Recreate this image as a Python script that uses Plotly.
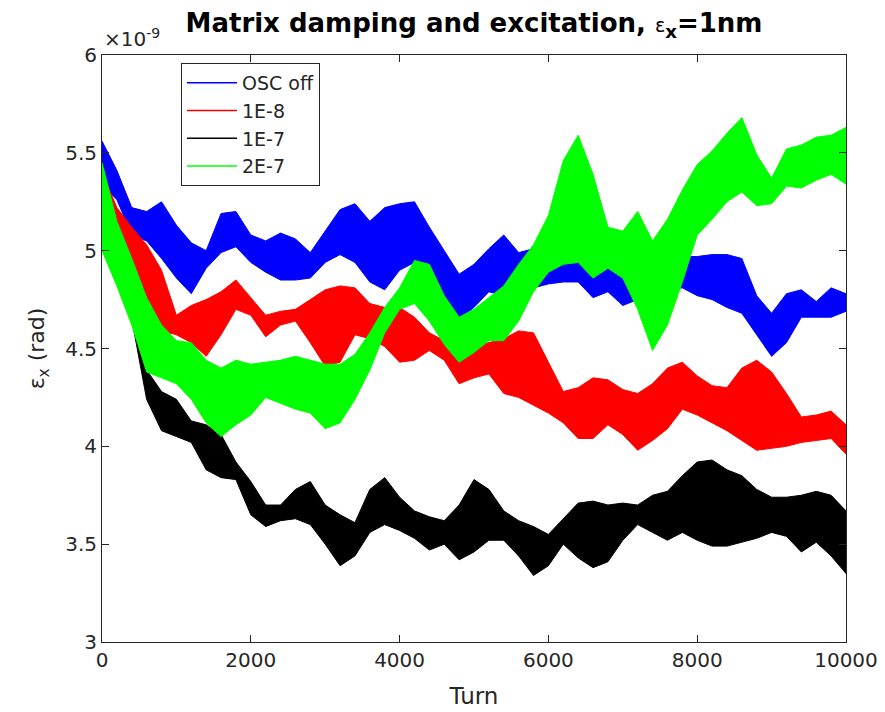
import plotly.graph_objects as go

turns = [0, 200, 400, 600, 800, 1000, 1200, 1400, 1600, 1800,
         2000, 2200, 2400, 2600, 2800, 3000, 3200, 3400, 3600, 3800,
         4000, 4200, 4400, 4600, 4800, 5000, 5200, 5400, 5600, 5800,
         6000, 6200, 6400, 6600, 6800, 7000, 7200, 7400, 7600, 7800,
         8000, 8200, 8400, 8600, 8800, 9000, 9200, 9400, 9600, 9800,
         10000]

# emittance envelopes (units of 1e-9 rad): upper / lower edge of each oscillating band
osc_off_upper = [5.56, 5.41, 5.22, 5.20, 5.25, 5.13, 5.04, 5.00, 5.19, 5.20,
                 5.08, 5.05, 5.09, 5.06, 4.99, 5.10, 5.21, 5.24, 5.15, 5.22,
                 5.24, 5.25, 5.12, 5.00, 4.88, 4.93, 5.01, 5.08, 4.99, 5.01,
                 5.11, 5.08, 5.03, 5.00, 4.99, 4.94, 4.96, 4.95, 4.96, 4.97,
                 4.97, 4.98, 4.98, 4.96, 4.77, 4.68, 4.78, 4.80, 4.74, 4.81,
                 4.78]
osc_off_lower = [5.34, 5.26, 5.08, 5.05, 4.96, 4.86, 4.78, 4.91, 4.99, 5.02,
                 4.94, 4.89, 4.85, 4.85, 4.86, 4.94, 4.98, 4.94, 4.84, 4.80,
                 4.90, 4.94, 4.82, 4.72, 4.65, 4.71, 4.79, 4.77, 4.80, 4.81,
                 4.83, 4.84, 4.84, 4.76, 4.79, 4.72, 4.75, 4.78, 4.80, 4.81,
                 4.77, 4.75, 4.71, 4.68, 4.57, 4.46, 4.53, 4.66, 4.66, 4.66,
                 4.69]

e8_upper = [5.40, 5.22, 5.12, 5.03, 4.90, 4.67, 4.72, 4.75, 4.79, 4.85,
            4.76, 4.67, 4.69, 4.70, 4.75, 4.80, 4.82, 4.81, 4.73, 4.71,
            4.71, 4.66, 4.58, 4.54, 4.49, 4.51, 4.53, 4.55, 4.59, 4.58,
            4.43, 4.28, 4.30, 4.35, 4.34, 4.29, 4.27, 4.32, 4.40, 4.43,
            4.36, 4.31, 4.30, 4.40, 4.44, 4.38, 4.27, 4.15, 4.16, 4.18,
            4.11]
e8_lower = [5.05, 5.10, 4.94, 4.76, 4.59, 4.57, 4.53, 4.46, 4.57, 4.70,
            4.67, 4.56, 4.62, 4.64, 4.53, 4.41, 4.43, 4.57, 4.55, 4.51,
            4.43, 4.44, 4.49, 4.44, 4.32, 4.35, 4.37, 4.27, 4.25, 4.21,
            4.17, 4.12, 4.04, 4.04, 4.11, 4.06, 3.98, 4.03, 4.09, 4.19,
            4.16, 4.12, 4.08, 4.03, 3.98, 3.99, 4.00, 4.02, 4.03, 4.04,
            3.96]

e7_upper = [5.46, 5.05, 4.80, 4.39, 4.28, 4.24, 4.13, 4.11, 4.06, 3.92,
            3.82, 3.70, 3.70, 3.78, 3.82, 3.70, 3.65, 3.61, 3.78, 3.84,
            3.74, 3.67, 3.64, 3.62, 3.70, 3.83, 3.78, 3.67, 3.62, 3.59,
            3.55, 3.63, 3.71, 3.72, 3.70, 3.71, 3.70, 3.75, 3.77, 3.85,
            3.92, 3.93, 3.88, 3.85, 3.78, 3.74, 3.74, 3.75, 3.77, 3.75,
            3.67]
e7_lower = [5.26, 4.86, 4.65, 4.24, 4.08, 4.05, 4.02, 3.88, 3.84, 3.83,
            3.65, 3.59, 3.62, 3.63, 3.60, 3.50, 3.39, 3.44, 3.56, 3.60,
            3.57, 3.53, 3.47, 3.50, 3.42, 3.46, 3.52, 3.52, 3.44, 3.34,
            3.39, 3.50, 3.43, 3.38, 3.41, 3.52, 3.60, 3.56, 3.52, 3.56,
            3.52, 3.49, 3.49, 3.51, 3.53, 3.56, 3.54, 3.46, 3.51, 3.44,
            3.35]

e27_upper = [5.45, 5.15, 4.96, 4.76, 4.62, 4.54, 4.53, 4.44, 4.40, 4.44,
             4.42, 4.43, 4.44, 4.46, 4.44, 4.42, 4.42, 4.47, 4.58, 4.71,
             4.81, 4.95, 4.93, 4.77, 4.66, 4.70, 4.76, 4.82, 4.93, 5.03,
             5.18, 5.46, 5.59, 5.39, 5.12, 5.10, 5.20, 5.05, 5.16, 5.31,
             5.44, 5.51, 5.60, 5.68, 5.49, 5.37, 5.52, 5.54, 5.58, 5.59,
             5.63]
e27_lower = [5.00, 4.82, 4.62, 4.38, 4.35, 4.32, 4.24, 4.12, 4.05, 4.11,
             4.16, 4.25, 4.22, 4.19, 4.17, 4.09, 4.12, 4.24, 4.39, 4.58,
             4.70, 4.73, 4.64, 4.52, 4.43, 4.48, 4.54, 4.54, 4.64, 4.79,
             4.89, 4.93, 4.94, 4.86, 4.91, 4.86, 4.70, 4.49, 4.62, 4.84,
             5.08, 5.16, 5.25, 5.30, 5.23, 5.24, 5.33, 5.32, 5.36, 5.39,
             5.34]

series_names = ["OSC off", "1E-8", "1E-7", "2E-7"]
series_colors = ["#0000FF", "#FF0000", "#000000", "#00FF00"]
uppers = [osc_off_upper, e8_upper, e7_upper, e27_upper]
lowers = [osc_off_lower, e8_lower, e7_lower, e27_lower]

TXT = "#262626"
FONT = "DejaVu Sans"

fig = go.Figure()
for name, col, up, lo in zip(series_names, series_colors, uppers, lowers):
    fig.add_trace(go.Scatter(
        x=turns + turns[::-1], y=up + lo[::-1],
        mode="lines", fill="toself", fillcolor=col,
        line=dict(color=col, width=1), showlegend=False, hoverinfo="skip"))
for name, col in zip(series_names, series_colors):
    fig.add_trace(go.Scatter(
        x=[None], y=[None], mode="lines", name=name,
        line=dict(color=col, width=1.5)))

fig.update_layout(
    width=885, height=712,
    margin=dict(l=102, r=39, t=55, b=70, autoexpand=False),
    paper_bgcolor="white", plot_bgcolor="white",
    font=dict(family=FONT, size=20, color=TXT),
    title=dict(
        text="<b>Matrix damping and excitation, </b><span style='font-size:19px'>ε</span><sub><b>x</b></sub><b>=1nm</b>",
        x=0.5, xref="paper", xanchor="center",
        y=1 - 23 / 712, yref="container", yanchor="middle",
        font=dict(family=FONT, size=26, color="#000000")),
    legend=dict(
        x=(181 - 102) / 744, y=(642 - 63) / 587, xanchor="left", yanchor="top",
        bgcolor="white", bordercolor=TXT, borderwidth=1,
        font=dict(family=FONT, size=19, color=TXT),
        tracegroupgap=0, itemwidth=50),
    showlegend=True,
)
fig.update_xaxes(
    range=[0, 10000], tickvals=[0, 2000, 4000, 6000, 8000, 10000], tickformat="d",
    showline=True, linecolor=TXT, linewidth=1, mirror="ticks", automargin=False,
    ticks="inside", ticklen=7, tickcolor=TXT, showgrid=False, zeroline=False,
    tickfont=dict(family=FONT, size=20, color=TXT),
    title=dict(text="Turn", font=dict(family=FONT, size=23, color=TXT), standoff=16))
fig.update_yaxes(
    range=[3, 6], tickvals=[3, 3.5, 4, 4.5, 5, 5.5, 6],
    showline=True, linecolor=TXT, linewidth=1, mirror="ticks", automargin=False,
    ticks="inside", ticklen=7, tickcolor=TXT, showgrid=False, zeroline=False,
    tickfont=dict(family=FONT, size=20, color=TXT),
    title=dict(text="ε<sub>x</sub> (rad)", font=dict(family=FONT, size=22, color=TXT), standoff=14))
fig.add_annotation(
    text="×10<sup>-9</sup>", xref="paper", yref="paper", x=0, y=1,
    xanchor="left", yanchor="bottom", yshift=2, showarrow=False,
    font=dict(family=FONT, size=20, color=TXT))

fig.write_html("out.html")
